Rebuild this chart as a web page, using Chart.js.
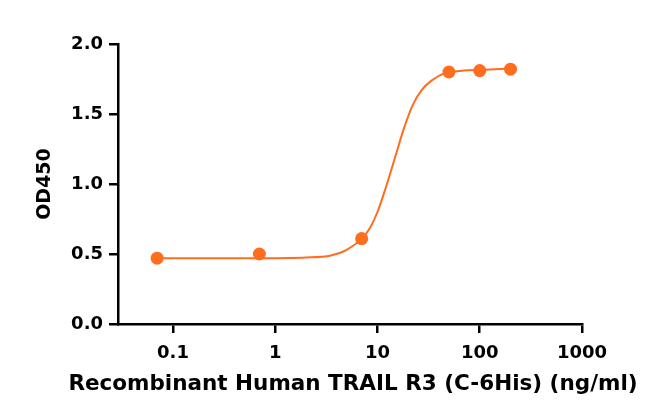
<!DOCTYPE html>
<html>
<head>
<meta charset="utf-8">
<script src="https://cdn.jsdelivr.net/npm/chart.js@4/dist/chart.umd.min.js"></script>
<style>
  html, body { margin: 0; padding: 0; background: #fff; }
  #wrap { width: 659px; height: 417px; }
</style>
</head>
<body>
<div id="wrap"><canvas id="myChart" width="659" height="417"></canvas></div>
<script>
// measured points
const doseX = [0.07, 0.7, 7, 50, 100, 200];
const odY = [0.47, 0.50, 0.61, 1.80, 1.81, 1.82];

// fitted curve
const curveX = [0.07, 0.7, 2, 3.5, 5, 7, 8.5, 10, 12, 15, 18, 22, 27, 34, 45, 70, 100, 200];
const curveY = [0.47, 0.47, 0.475, 0.49, 0.53, 0.61, 0.69, 0.80, 0.97, 1.20, 1.39, 1.56, 1.67, 1.74, 1.79, 1.81, 1.815, 1.825];

const xTicks = [0.1, 1, 10, 100, 1000];
const xTickLabels = ['0.1', '1', '10', '100', '1000'];
const yTicks = [0, 0.5, 1.0, 1.5, 2.0];

const xTitle = 'Recombinant Human TRAIL R3 (C-6His) (ng/ml)';
const orange = '#ff6d1f';

// Chart.js squeezes axis titles to the axis width, the original runs wider, so draw it here
const xTitlePlugin = {
  id: 'xTitle',
  afterDraw: (chart) => {
    const c = chart.ctx;
    const area = chart.chartArea;
    c.save();
    c.fillStyle = '#000';
    c.font = 'bold 21.5px "DejaVu Sans"';
    c.textAlign = 'center';
    c.textBaseline = 'middle';
    c.fillText(xTitle, (area.left + area.right) / 2 + 3, 384);
    c.restore();
  }
};

const ctx = document.getElementById('myChart').getContext('2d');
const myChart = new Chart(ctx, {
  type: 'line',
  data: {
    datasets: [
      {
        label: 'fit',
        data: curveX.map((x, i) => ({ x: x, y: curveY[i] })),
        borderColor: orange,
        borderWidth: 2,
        pointRadius: 0,
        cubicInterpolationMode: 'monotone',
        fill: false
      },
      {
        label: 'points',
        data: doseX.map((x, i) => ({ x: x, y: odY[i] })),
        showLine: false,
        pointRadius: 6.5,
        pointBackgroundColor: orange,
        pointBorderColor: orange,
        pointBorderWidth: 0
      }
    ]
  },
  plugins: [xTitlePlugin],
  options: {
    responsive: false,
    animation: false,
    layout: { padding: { top: 44, right: 77, left: 0, bottom: 0 } },
    plugins: { legend: { display: false }, tooltip: { enabled: false } },
    scales: {
      x: {
        type: 'logarithmic',
        min: 0.029,
        max: 1000,
        afterBuildTicks: (axis) => { axis.ticks = xTicks.map(v => ({ value: v })); },
        afterFit: (axis) => { axis.height = 93; },
        border: { display: true, color: '#000', width: 2.5 },
        grid: { drawOnChartArea: false, drawTicks: true, tickLength: 9, color: '#000', lineWidth: 2.5 },
        ticks: {
          color: '#000',
          font: { family: 'DejaVu Sans', weight: 'bold', size: 18 },
          padding: 10,
          maxRotation: 0,
          callback: (v) => xTickLabels[xTicks.indexOf(v)]
        },
        title: { display: false }
      },
      y: {
        min: 0,
        max: 2,
        afterBuildTicks: (axis) => { axis.ticks = yTicks.map(v => ({ value: v })); },
        afterFit: (axis) => { axis.width = 118; },
        border: { display: true, color: '#000', width: 2.5 },
        grid: { drawOnChartArea: false, drawTicks: true, tickLength: 9, color: '#000', lineWidth: 2.5 },
        ticks: {
          color: '#000',
          font: { family: 'DejaVu Sans', weight: 'bold', size: 18 },
          padding: 6,
          callback: (v) => v.toFixed(1)
        },
        title: {
          display: true,
          text: 'OD450',
          color: '#000',
          font: { family: 'DejaVu Sans', weight: 'bold', size: 19 },
          padding: { top: 34, bottom: 0 }
        }
      }
    }
  }
});
</script>
</body>
</html>
